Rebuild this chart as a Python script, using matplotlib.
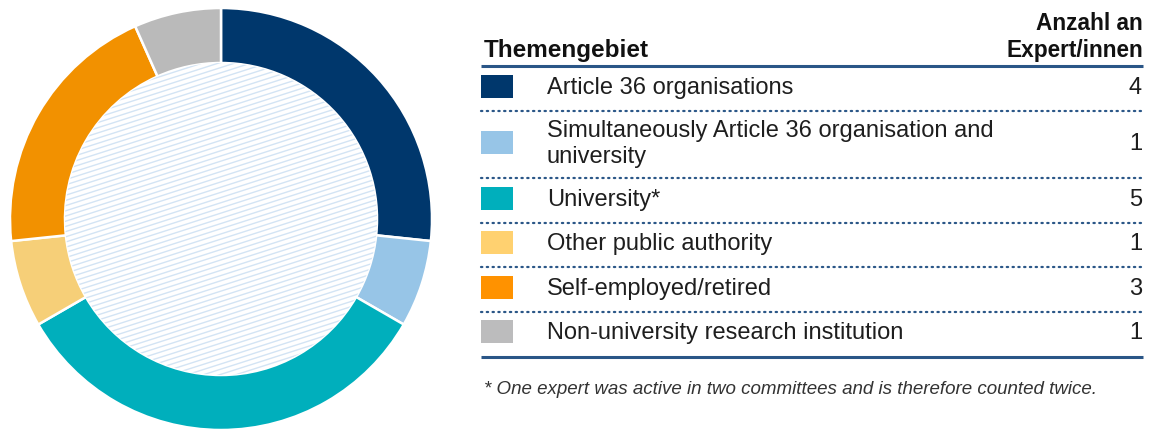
import matplotlib.pyplot as plt
from matplotlib.patches import Circle, Rectangle
import numpy as np

# data
labels = ["Article 36 organisations",
          "Simultaneously Article 36 organisation and\nuniversity",
          "University*",
          "Other public authority",
          "Self-employed/retired",
          "Non-university research institution"]
counts = [4, 1, 5, 1, 3, 1]
ring_colors = ["#00376c", "#97c5e7", "#00afbc", "#f6cf78", "#f29100", "#bababa"]
key_colors = ["#00376c", "#97c5e7", "#00afbc", "#ffd170", "#ff9200", "#bcbcbd"]
header_left = "Themengebiet"
header_right = "Anzahl an\nExpert/innen"
footnote = "* One expert was active in two committees and is therefore counted twice."

W, H = 1149, 430
plt.rcParams['font.family'] = ['Liberation Sans', 'DejaVu Sans']
fig = plt.figure(figsize=(W / 100, H / 100), dpi=100)

# donut
cx, cy, R = 221, 219, 211
ring = 55
ax = fig.add_axes([(cx - R) / W, (H - cy - R) / H, 2 * R / W, 2 * R / H])
ax.pie(counts, colors=ring_colors, startangle=90, counterclock=False,
       radius=1, wedgeprops=dict(width=ring / R, edgecolor="white", linewidth=1.8))
r_in = 1 - ring / R
clip = Circle((0, 0), r_in, transform=ax.transData, facecolor="none", edgecolor="none")
ax.add_patch(clip)
slope = 0.32
for c in np.arange(-1.5, 1.5, 5.2 / R):
    xs = np.array([-1, 1])
    ln, = ax.plot(xs, slope * xs + c, color="#d3e4f4", lw=1.0)
    ln.set_clip_path(clip)
ax.set_xlim(-1, 1)
ax.set_ylim(-1, 1)
ax.set_aspect("equal")
ax.axis("off")

# legend table drawn in pixel coordinates
tx = fig.add_axes([0, 0, 1, 1], zorder=-1)
tx.set_xlim(0, W)
tx.set_ylim(H, 0)
tx.axis("off")

x0, x1 = 481, 1143
txt_col = "#1e1e1e"
line_col = "#2a5687"
tx.text(484, 57, header_left, fontsize=17.5, fontweight="bold", color="#111111",
        ha="left", va="baseline")
tx.text(x1, 57, header_right, fontsize=16.3, fontweight="bold", color="#111111",
        ha="right", va="baseline", linespacing=1.22, multialignment="right")
tx.plot([x0, x1], [66, 66], color=line_col, lw=2.2, solid_capstyle="butt")

y = 66.5
for i, (lab, n, col) in enumerate(zip(labels, counts, key_colors)):
    nl = lab.count("\n") + 1
    h = 22 + 22.5 * nl
    yc = y + h / 2 - 2
    tx.add_patch(Rectangle((x0, yc - 11.5), 32, 23, facecolor=col, edgecolor="none"))
    tx.text(547, yc + 1.5, lab, fontsize=17, color=txt_col, ha="left", va="center",
            linespacing=1.18)
    tx.text(1142, yc + 1.5, str(n), fontsize=17, color=txt_col, ha="right", va="center")
    y += h
    if i < len(labels) - 1:
        tx.plot([x0, x1], [y, y], color=line_col, lw=1.6, ls=(0, (0.6, 2.0)),
                dash_capstyle="round")
tx.plot([x0, x1], [357, 357], color=line_col, lw=2.2, solid_capstyle="butt")

tx.text(484, 390, footnote, fontsize=13.5, style="italic", color="#333333",
        ha="left", va="center")

fig.savefig("out.png", dpi=100)
